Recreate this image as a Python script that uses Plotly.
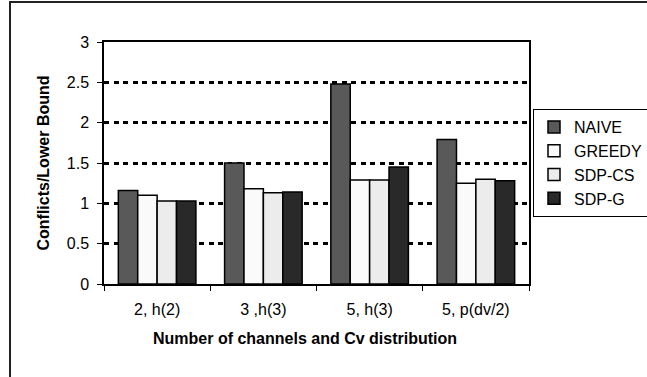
import plotly.graph_objects as go

categories = ["2, h(2)", "3 ,h(3)", "5, h(3)", "5, p(dv/2)"]
naive = [1.16, 1.50, 2.48, 1.79]
greedy = [1.10, 1.18, 1.29, 1.25]
sdp_cs = [1.03, 1.13, 1.29, 1.30]
sdp_g = [1.03, 1.14, 1.45, 1.28]

series = [
    ("NAIVE", naive, "#595959"),
    ("GREEDY", greedy, "#fafafa"),
    ("SDP-CS", sdp_cs, "#ececec"),
    ("SDP-G", sdp_g, "#292929"),
]

x_title = "Number of channels and Cv distribution"
y_title = "Conflicts/Lower Bound"

W, H = 647, 377
ml, mr, mt, mb = 104, 118, 42, 93
pw = W - ml - mr
ph = H - mt - mb

fig = go.Figure()
for i, (name, vals, col) in enumerate(series):
    fig.add_trace(go.Bar(
        x=categories, y=vals, name=name, legendgroup=name,
        marker=dict(color=col, line=dict(color="#000000", width=1.5)),
    ))

font = "Liberation Sans, Arial, sans-serif"

fig.update_layout(
    width=W, height=H,
    margin=dict(l=ml, r=mr, t=mt, b=mb, autoexpand=False),
    paper_bgcolor="white", plot_bgcolor="white",
    barmode="group", bargap=0.27, bargroupgap=0,
    font=dict(family=font, size=16, color="#000"),
    showlegend=True,
    legend=dict(
        x=(533 - ml) / pw, y=1 - (109 - mt) / ph, xanchor="left", yanchor="top",
        bordercolor="#000", borderwidth=1, bgcolor="white",
        font=dict(size=16, family=font), tracegroupgap=5,
        traceorder="normal",
    ),
    xaxis=dict(
        showline=True, linecolor="#000", linewidth=1.5, mirror=True,
        ticks="outside", ticklen=5, tickwidth=1, tickcolor="#000",
        tickson="boundaries", showgrid=False,
        ticklabelstandoff=10,
        tickfont=dict(size=16),
    ),
    yaxis=dict(
        range=[0, 3], dtick=0.5,
        showline=True, linecolor="#000", linewidth=1.5, mirror=True,
        ticks="outside", ticklen=5, tickwidth=1, tickcolor="#000",
        ticklabelstandoff=5,
        showgrid=True, gridcolor="#000", gridwidth=2.5, griddash="5px,4.5px",
        zeroline=False,
        tickfont=dict(size=16),
        title=dict(text="<b>" + y_title + "</b>", font=dict(size=16), standoff=13),
    ),
)

fig.add_annotation(
    text="<b>" + x_title + "</b>", xref="paper", yref="paper",
    x=(305 - ml) / pw, y=-(338 - mt - ph) / ph, xanchor="center", yanchor="middle",
    showarrow=False, font=dict(size=16, family=font, color="#000"),
)

# outer chart-area frame (extends off the right and bottom edges)
fig.add_shape(
    type="rect", xref="paper", yref="paper",
    x0=(10 - ml) / pw, x1=(W + 10 - ml) / pw,
    y0=-(mb + 10) / ph, y1=1 + (mt - 2) / ph,
    line=dict(color="#222", width=2), fillcolor="rgba(0,0,0,0)", layer="below",
)

fig.write_html("out.html")
